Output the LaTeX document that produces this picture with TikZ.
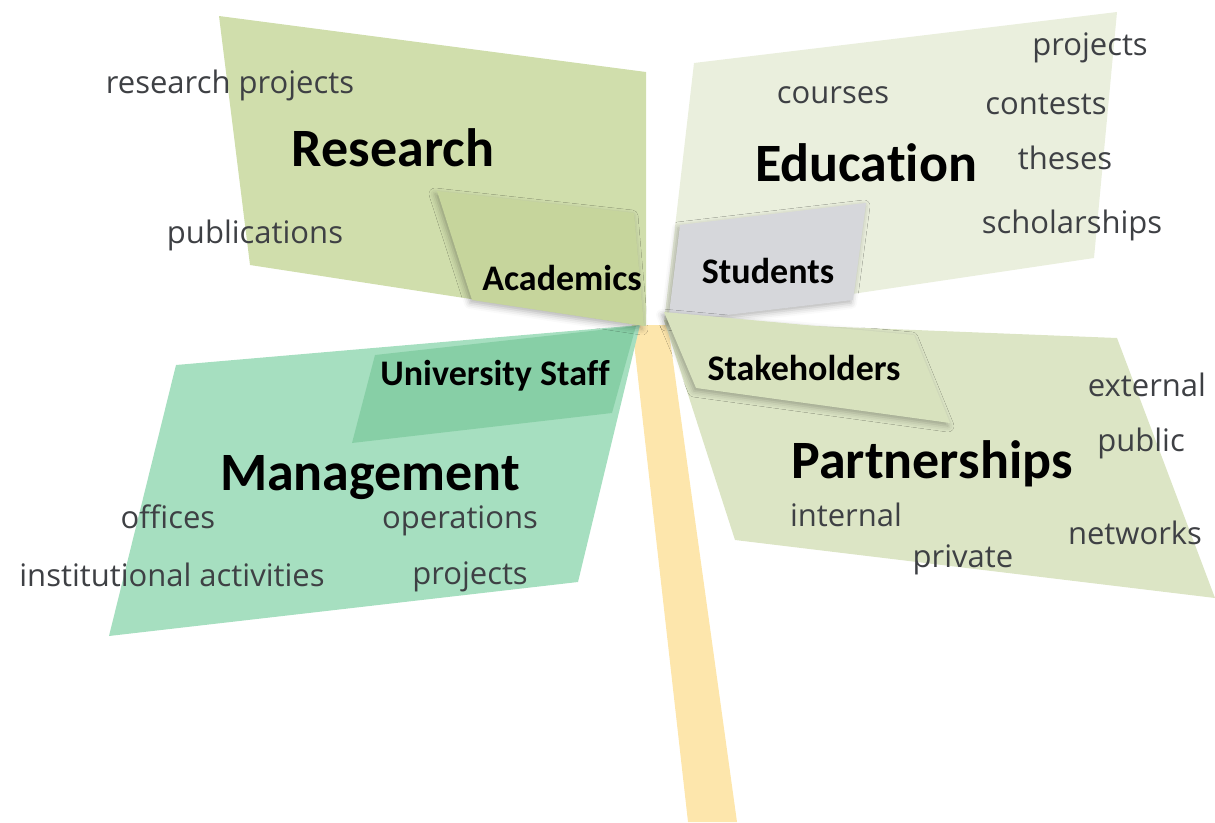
\documentclass[tikz,border=0pt]{standalone}
\usepackage{fontspec}
\setmainfont{Open Sans}
\newfontfamily\calibri[Ligatures=NoCommon]{Carlito}
\usetikzlibrary{shadows.blur}

\definecolor{resgreen}{RGB}{208,222,172}
\definecolor{acadgreen}{RGB}{198,213,156}
\definecolor{edugreen}{RGB}{234,239,221}
\definecolor{studgray}{RGB}{214,215,219}
\definecolor{mgmtgreen}{RGB}{166,223,192}
\definecolor{staffgreen}{RGB}{132,206,164}
\definecolor{partgreen}{RGB}{220,229,197}
\definecolor{stakegreen}{RGB}{216,226,190}
\definecolor{stick}{RGB}{253,230,172}
\definecolor{wordgray}{RGB}{62,64,68}

\begin{document}
\begin{tikzpicture}[x=1pt, y=-1pt,
  word/.style={text=wordgray, inner sep=0pt, font=\fontsize{31}{31}\selectfont},
  head/.style={inner sep=0pt, font=\calibri\bfseries\fontsize{54}{54}\selectfont},
  tag/.style={inner sep=0pt, font=\calibri\bfseries\fontsize{36}{36}\selectfont},
  shade/.style={blur shadow={shadow xshift=-2pt, shadow yshift=-3pt, shadow blur radius=6pt, shadow opacity=30}}]
  \useasboundingbox (0,0) rectangle (1215,822);

  % stick
  \fill[stick] (632,325) -- (668,325) -- (737,822) -- (688,822) --cycle;

  % blades
  \coordinate (R1) at (219,16);
  \coordinate (R2) at (646,72);
  \coordinate (R3) at (646,326);
  \coordinate (R4) at (250,265);
  \fill[resgreen] (R1) -- (R2) -- (R3) -- (R4) --cycle;

  \coordinate (E1) at (694,63);
  \coordinate (E2) at (1117,12);
  \coordinate (E3) at (1094,258);
  \coordinate (E4) at (664,322);
  \fill[edugreen] (E1) -- (E2) -- (E3) -- (E4) --cycle;

  \coordinate (M1) at (176,365);
  \coordinate (M2) at (640,325);
  \coordinate (M3) at (578,582);
  \coordinate (M4) at (109,636);
  \fill[mgmtgreen] (M1) -- (M2) -- (M3) -- (M4) --cycle;

  \coordinate (P1) at (664,320);
  \coordinate (P2) at (1117,338);
  \coordinate (P3) at (1215,598);
  \coordinate (P4) at (735,540);
  \fill[partgreen] (P1) -- (P2) -- (P3) -- (P4) --cycle;

  % inner tags
  \fill[staffgreen, opacity=0.9] (375,355) -- (636,326) -- (612,413) -- (352,443) --cycle;
  \fill[acadgreen, shade] (437,191) -- (634,213) -- (644,326) -- (472,300) --cycle;
  \fill[studgray, shade] (680,225) -- (866,203) -- (853,300) -- (668,322) --cycle;
  \fill[stakegreen, shade] (664,312) -- (914,335) -- (950,423) -- (696,388) --cycle;

  % labels
  \node[head] (research) at (393,148) {Research};
  \node[head] (education) at (866,163) {Education};
  \node[head] (management) at (370,478) {Management};
  \node[head] (partnerships) at (932,464) {Partnerships};

  \node[tag] (academics) at (562,278) {Academics};
  \node[tag] (students) at (768,271) {Students};
  \node[tag] (staff) at (495,376) {University Staff};
  \node[tag] (stakeholders) at (804,368) {Stakeholders};

  \node[word] (resprojects) at (230,85) {research projects};
  \node[word] (publications) at (255,235) {publications};
  \node[word] (courses) at (833,95) {courses};
  \node[word] (eduprojects) at (1090,48) {projects};
  \node[word] (contests) at (1046,104) {contests};
  \node[word] (theses) at (1065,158) {theses};
  \node[word] (scholarships) at (1072,225) {scholarships};
  \node[word] (offices) at (168,517) {offices};
  \node[word] (operations) at (460,521) {operations};
  \node[word] (institutional) at (172,575) {institutional activities};
  \node[word] (mgmtprojects) at (470,577) {projects};
  \node[word] (external) at (1147,385) {external};
  \node[word] (public) at (1141,443) {public};
  \node[word] (internal) at (846,515) {internal};
  \node[word] (networks) at (1135,533) {networks};
  \node[word] (private) at (963,560) {private};
\end{tikzpicture}
\end{document}
